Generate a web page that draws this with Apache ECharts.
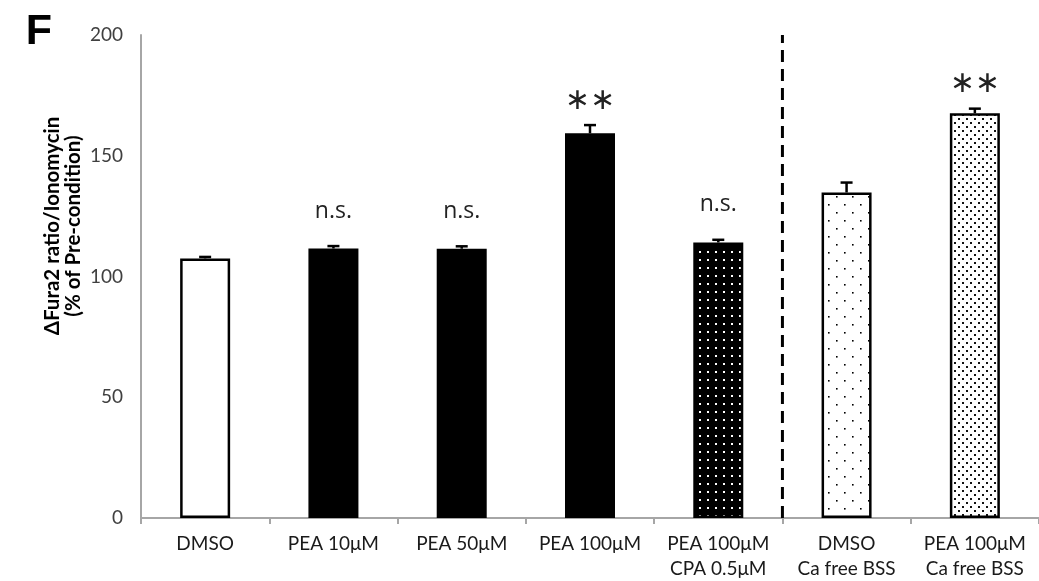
<!DOCTYPE html>
<html>
<head>
<meta charset="utf-8">
<script src="https://cdn.jsdelivr.net/npm/echarts@6/dist/echarts.min.js"></script>
<style>
html,body{margin:0;padding:0;background:#fff;}
#chart{width:1039px;height:581px;}
</style>
</head>
<body>
<div id="chart"></div>
<script>
// ---- data ----
const categories = ['DMSO', 'PEA 10μM', 'PEA 50μM', 'PEA 100μM', 'PEA 100μM\nCPA 0.5μM', 'DMSO\nCa free BSS', 'PEA 100μM\nCa free BSS'];
const means = [107.5, 111.6, 111.5, 159.3, 114.1, 134.8, 167.6];
const errors = [0.6, 1.0, 1.0, 3.4, 1.1, 4.1, 1.9];
const annotations = ['', 'n.s.', 'n.s.', '∗∗', 'n.s.', '', '∗∗'];
const yTicks = [0, 50, 100, 150, 200];
const dividerPosition = 5; // boundary between condition groups (category index)

// ---- patterns ----
function makePattern(w, h, bg, fg, dots, size) {
  const c = document.createElement('canvas');
  c.width = w; c.height = h;
  const ctx = c.getContext('2d');
  ctx.fillStyle = bg; ctx.fillRect(0, 0, w, h);
  ctx.fillStyle = fg;
  dots.forEach(d => ctx.fillRect(d[0], d[1], size, size));
  return c;
}
const cpaPattern = makePattern(8, 8, '#000', '#fff', [[3, 3]], 2);
const sparsePattern = makePattern(16, 16, '#fff', '#000', [[4, 4], [12, 12]], 1.6);
const densePattern = makePattern(8, 8, '#fff', '#111', [[2, 2], [6, 6]], 2);

const fills = ['#ffffff', '#000000', '#000000', '#000000',
  {image: cpaPattern, repeat: 'repeat'},
  {image: sparsePattern, repeat: 'repeat'},
  {image: densePattern, repeat: 'repeat'}];

const chart = echarts.init(document.getElementById('chart'), null, {renderer: 'canvas'});
const labelFont = 'Lato, "Open Sans", sans-serif';

const option = {
  backgroundColor: '#fff',
  animation: false,
  grid: {left: 141, top: 35, width: 909, height: 488, containLabel: false},
  xAxis: [{
    type: 'category',
    data: categories,
    axisLine: {lineStyle: {color: '#a6a6a6', width: 2}},
    axisTick: {show: true, interval: 0, length: 6, lineStyle: {color: '#a6a6a6', width: 2}},
    axisLabel: {interval: 0, color: '#1a1a1a', fontSize: 19, fontFamily: labelFont, lineHeight: 25, margin: 13}
  }, {
    type: 'value', min: 0, max: 7, show: false
  }],
  yAxis: {
    type: 'value', min: 0, max: 200, interval: 50,
    axisLine: {show: true, lineStyle: {color: '#a6a6a6', width: 2}},
    axisTick: {show: false},
    splitLine: {show: false},
    axisLabel: {color: '#404040', fontSize: 19, fontFamily: labelFont, margin: 18,
      formatter: v => yTicks.includes(v) ? String(v) : ''}
  },
  graphic: [
    {type: 'text', x: 39, y: 32,
      style: {text: 'F', fontSize: 43, fontWeight: 'bold', fontFamily: '"Liberation Sans", Arial, sans-serif',
        fill: '#000', align: 'center', verticalAlign: 'middle'}},
    {type: 'text', x: 63, y: 226, rotation: Math.PI / 2,
      style: {text: 'ΔFura2 ratio/Ionomycin\n(% of Pre-condition)', fontSize: 20.5, fontWeight: 'bold',
        fontFamily: 'Lato, sans-serif', fill: '#000', align: 'center', verticalAlign: 'middle', lineHeight: 21}}
  ],
  series: [
    {
      type: 'bar',
      barWidth: 50,
      data: means.map((v, i) => ({value: v, itemStyle: {color: fills[i]}})),
      itemStyle: {borderColor: '#000', borderWidth: 2.5},
      z: 2
    },
    {
      type: 'custom',
      z: 3,
      data: means.map((m, i) => [i, m, errors[i]]),
      renderItem: function (params, api) {
        const i = api.value(0), m = api.value(1), e = api.value(2);
        const base = api.coord([i, m]);
        const top = api.coord([i, m + e]);
        const x = base[0];
        const lineStyle = {stroke: '#000', lineWidth: 2.5};
        const children = [
          {type: 'line', shape: {x1: x, y1: base[1], x2: x, y2: top[1]}, style: lineStyle},
          {type: 'line', shape: {x1: x - 6, y1: top[1], x2: x + 6, y2: top[1]}, style: lineStyle}
        ];
        const ann = annotations[i];
        if (ann) {
          const isStar = ann !== 'n.s.';
          children.push({
            type: 'text',
            x: x, y: top[1] - (isStar ? 24 : 35),
            style: {
              text: ann,
              fontSize: isStar ? 30 : 23,
              fontFamily: isStar ? '"DejaVu Sans", sans-serif' : '"Open Sans", sans-serif',
              fill: '#222', align: 'center', verticalAlign: 'middle'
            }
          });
        }
        return {type: 'group', children: children};
      }
    },
    {
      type: 'line',
      xAxisIndex: 1,
      data: [[dividerPosition, 0], [dividerPosition, 200]],
      symbol: 'none',
      lineStyle: {color: '#000', width: 3, type: [12, 7]},
      z: 1
    }
  ]
};
chart.setOption(option);
</script>
</body>
</html>
